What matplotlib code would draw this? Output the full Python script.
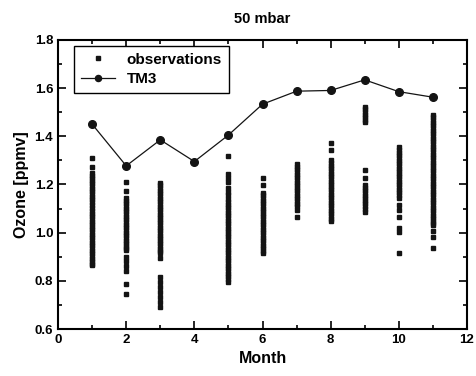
import matplotlib
matplotlib.use("Agg")
import matplotlib.pyplot as plt
from matplotlib.ticker import MultipleLocator

plt.rcParams["font.family"] = ["Liberation Sans", "DejaVu Sans"]

# TM3 model, monthly values
tm3_months = [1, 2, 3, 4, 5, 6, 7, 8, 9, 10, 11]
tm3_ozone = [1.45, 1.277, 1.385, 1.295, 1.405, 1.533, 1.587, 1.59, 1.634, 1.585, 1.562]

# observations, per month
obs_m1 = [1.31, 1.274, 1.246, 1.236, 1.226, 1.215, 1.204, 1.193, 1.182, 1.171, 1.16,
          1.149, 1.138, 1.127, 1.115, 1.101, 1.09, 1.079, 1.068, 1.057, 1.046, 1.035,
          1.024, 1.013, 1.002, 0.991, 0.98, 0.969, 0.958, 0.947, 0.936, 0.925, 0.914,
          0.903, 0.892, 0.881, 0.87, 0.866]
obs_m2 = [1.209, 1.174, 1.143, 1.132, 1.121, 1.11, 1.099, 1.088, 1.077, 1.066, 1.055,
          1.044, 1.033, 1.022, 1.011, 1.0, 0.989, 0.978, 0.967, 0.956, 0.945, 0.935,
          0.928, 0.90, 0.882, 0.863, 0.842, 0.787, 0.745]
obs_m3 = [1.207, 1.196, 1.185, 1.174, 1.163, 1.152, 1.141, 1.13, 1.119, 1.108, 1.097,
          1.086, 1.075, 1.064, 1.053, 1.045, 1.032, 1.021, 1.01, 0.999, 0.988, 0.977,
          0.966, 0.955, 0.944, 0.933, 0.922, 0.914, 0.893, 0.815, 0.797, 0.776, 0.755,
          0.734, 0.713, 0.692]
obs_m5 = [1.32, 1.242, 1.227, 1.212, 1.184, 1.17, 1.156, 1.138, 1.127, 1.116, 1.105,
          1.094, 1.083, 1.072, 1.061, 1.05, 1.039, 1.028, 1.017, 1.006, 0.995, 0.984,
          0.973, 0.962, 0.951, 0.94, 0.929, 0.918, 0.907, 0.896, 0.885, 0.874, 0.863,
          0.852, 0.841, 0.83, 0.819, 0.808, 0.796]
obs_m6 = [1.228, 1.198, 1.166, 1.155, 1.144, 1.133, 1.122, 1.111, 1.1, 1.089, 1.078,
          1.067, 1.056, 1.045, 1.034, 1.023, 1.012, 1.001, 0.99, 0.979, 0.968, 0.957,
          0.946, 0.935, 0.924, 0.914]
obs_m7 = [1.285, 1.274, 1.263, 1.252, 1.241, 1.23, 1.219, 1.208, 1.197, 1.186, 1.175,
          1.164, 1.153, 1.142, 1.131, 1.12, 1.109, 1.094, 1.066]
obs_m8 = [1.373, 1.343, 1.30, 1.289, 1.278, 1.267, 1.256, 1.245, 1.234, 1.223, 1.212,
          1.201, 1.19, 1.179, 1.168, 1.157, 1.146, 1.135, 1.124, 1.113, 1.102, 1.091,
          1.08, 1.069, 1.058, 1.048]
obs_m9 = [1.523, 1.512, 1.501, 1.49, 1.479, 1.468, 1.461, 1.26, 1.226, 1.198, 1.187,
          1.176, 1.165, 1.154, 1.143, 1.132, 1.121, 1.11, 1.099, 1.087]
obs_m10 = [1.354, 1.343, 1.332, 1.321, 1.31, 1.299, 1.288, 1.277, 1.266, 1.255, 1.244,
           1.233, 1.222, 1.211, 1.2, 1.189, 1.178, 1.167, 1.156, 1.143, 1.115, 1.094,
           1.066, 1.018, 1.004, 0.917]
obs_m11 = [1.489, 1.478, 1.467, 1.456, 1.445, 1.434, 1.423, 1.412, 1.401, 1.39, 1.379,
           1.368, 1.357, 1.346, 1.335, 1.324, 1.313, 1.302, 1.291, 1.28, 1.269, 1.258,
           1.247, 1.236, 1.225, 1.214, 1.203, 1.192, 1.181, 1.17, 1.159, 1.148, 1.137,
           1.126, 1.115, 1.104, 1.093, 1.082, 1.071, 1.06, 1.049, 1.038, 1.032, 1.008,
           0.983, 0.935]

obs_by_month = {1: obs_m1, 2: obs_m2, 3: obs_m3, 5: obs_m5, 6: obs_m6, 7: obs_m7,
                8: obs_m8, 9: obs_m9, 10: obs_m10, 11: obs_m11}

obs_x = []
obs_y = []
for m, vals in obs_by_month.items():
    obs_x += [m] * len(vals)
    obs_y += vals

fig = plt.figure(figsize=(4.76, 3.76), dpi=100)
ax = fig.add_axes([0.122, 0.125, 0.859, 0.769])

ax.plot(obs_x, obs_y, linestyle="none", marker="s", markersize=3.3,
        color="#141414", label="observations")
ax.plot(tm3_months, tm3_ozone, color="#141414", linewidth=0.9, marker="o",
        markersize=5.5, label="TM3")

ax.set_xlim(0, 12)
ax.set_ylim(0.6, 1.8)
ax.xaxis.set_major_locator(MultipleLocator(2))
ax.xaxis.set_minor_locator(MultipleLocator(1))
ax.yaxis.set_major_locator(MultipleLocator(0.2))
ax.yaxis.set_minor_locator(MultipleLocator(0.1))
ax.yaxis.set_major_formatter(plt.FormatStrFormatter("%.1f"))
ax.tick_params(which="both", direction="in", top=True, right=True, width=1.2,
               labelsize=9.5)
ax.tick_params(which="major", length=6)
ax.tick_params(which="minor", length=3)
for lbl in ax.get_xticklabels() + ax.get_yticklabels():
    lbl.set_fontweight("bold")
for s in ax.spines.values():
    s.set_linewidth(1.5)

ax.set_xlabel("Month", fontsize=11.5, fontweight="bold")
ax.set_ylabel("Ozone [ppmv]", fontsize=11.5, fontweight="bold")
ax.set_title("50 mbar", fontsize=10.5, pad=12, fontweight="bold")

leg = ax.legend(loc="upper left", bbox_to_anchor=(0.039, 0.979), borderaxespad=0,
                prop={"size": 11, "weight": "bold"}, fancybox=False,
                edgecolor="black", framealpha=1, handlelength=2.2,
                handletextpad=0.8, borderpad=0.45, labelspacing=0.35,
                markerscale=0.8)
leg.get_frame().set_linewidth(1.0)

fig.savefig("out.png", dpi=100)
